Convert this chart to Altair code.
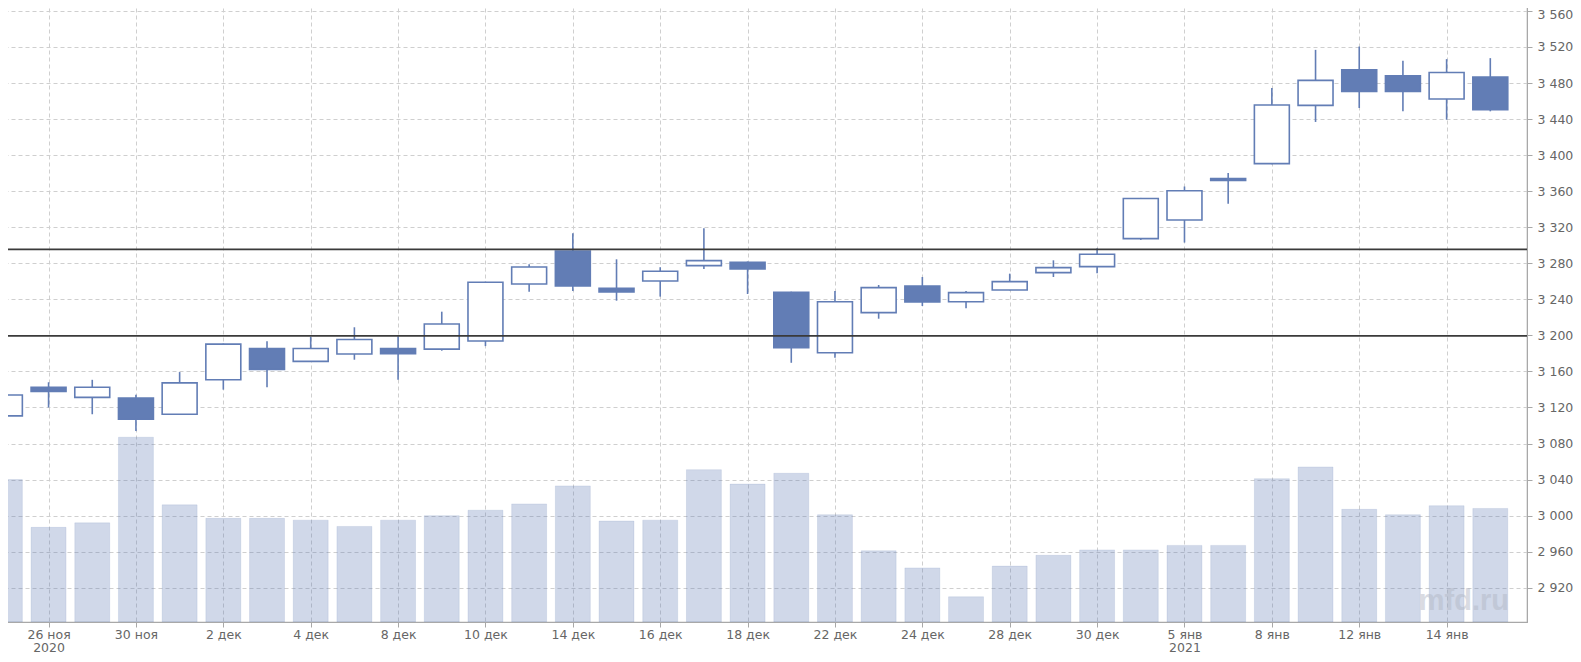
import json
import altair as alt
import pandas as pd

# ---- data ----
dates = ["25 ноя", "26 ноя", "27 ноя", "30 ноя", "1 дек", "2 дек", "3 дек", "4 дек",
         "7 дек", "8 дек", "9 дек", "10 дек", "11 дек", "14 дек", "15 дек", "16 дек",
         "17 дек", "18 дек", "21 дек", "22 дек", "23 дек", "24 дек", "25 дек", "28 дек",
         "29 дек", "30 дек", "4 янв", "5 янв", "6 янв", "8 янв", "11 янв", "12 янв",
         "13 янв", "14 янв", "15 янв"]
opens = [3110.7, 3142.4, 3131.2, 3130.5, 3112.5, 3150.7, 3185.4, 3171.2, 3179.4, 3185.4,
         3184.8, 3193.7, 3257.0, 3293.7, 3252.2, 3260.4, 3277.4, 3281.1, 3247.8, 3180.7,
         3225.2, 3254.8, 3237.4, 3250.4, 3269.6, 3276.3, 3307.4, 3328.1, 3374.0, 3390.6,
         3455.2, 3494.7, 3488.0, 3462.2, 3486.6]
highs = [3134.5, 3148.0, 3150.7, 3134.2, 3159.3, 3191.0, 3193.6, 3198.5, 3209.0, 3199.0,
         3226.3, 3259.5, 3278.9, 3313.3, 3284.4, 3275.6, 3318.9, 3282.0, 3248.5, 3249.3,
         3255.9, 3264.8, 3249.3, 3268.5, 3283.3, 3296.7, 3352.5, 3365.2, 3380.3, 3474.4,
         3516.8, 3520.5, 3504.6, 3506.5, 3507.6]
lows = [3090.0, 3120.0, 3112.5, 3093.8, 3112.0, 3139.8, 3142.4, 3171.0, 3173.0, 3150.7,
        3183.0, 3188.1, 3248.5, 3249.3, 3238.5, 3243.0, 3273.7, 3245.9, 3169.6, 3175.2,
        3218.5, 3232.6, 3230.0, 3250.0, 3264.8, 3268.9, 3305.9, 3303.0, 3346.0, 3390.0,
        3436.8, 3452.3, 3448.6, 3439.3, 3448.6]
closes = [3133.8, 3137.9, 3142.4, 3106.9, 3147.3, 3190.3, 3162.2, 3185.4, 3195.5, 3179.8,
          3212.6, 3258.9, 3275.9, 3254.8, 3248.1, 3271.1, 3283.0, 3273.7, 3186.3, 3237.4,
          3253.0, 3237.0, 3247.4, 3259.6, 3275.2, 3290.0, 3351.9, 3360.4, 3371.8, 3455.6,
          3482.9, 3470.7, 3470.7, 3491.7, 3450.4]
volume_tops = [3040, 2987, 2992, 3087, 3012, 2997, 2997, 2995, 2988, 2995, 3000, 3006,
               3013, 3033, 2994, 2995, 3051, 3035, 3047, 3001, 2961, 2942, 2910, 2944,
               2956, 2962, 2962, 2967, 2967, 3041, 3054, 3007, 3001, 3011, 3008]
levels = [3295.5, 3199.5]

tick_idx = [1, 3, 5, 7, 9, 11, 13, 15, 17, 19, 21, 23, 25, 27, 29, 31, 33]
tick_text = ["26 ноя", "30 ноя", "2 дек", "4 дек", "8 дек", "10 дек", "14 дек", "16 дек",
             "18 дек", "22 дек", "24 дек", "28 дек", "30 дек", "5 янв", "8 янв", "12 янв",
             "14 янв"]
year_marks = {"26 ноя": "2020", "5 янв": "2021"}
y_ticks = list(range(2920, 3561, 40))

Y_MIN, Y_MAX = 2882, 3571
X_MIN, X_MAX = -0.043, 34.84
BLUE = "#627db5"
FONT = "DejaVu Sans"

df = pd.DataFrame({
    "i": list(range(len(dates))),
    "date": dates,
    "open": opens,
    "high": highs,
    "low": lows,
    "close": closes,
    "vol": volume_tops,
})

labels = [[t, year_marks[t]] if t in year_marks else t for t in tick_text]
label_expr = "%s[indexof(%s, datum.value)]" % (
    json.dumps(labels, ensure_ascii=False), json.dumps(tick_idx))

xscale = alt.Scale(domain=[X_MIN, X_MAX], nice=False, zero=False)
yscale = alt.Scale(domain=[Y_MIN, Y_MAX], nice=False, zero=False)

x_axis = alt.Axis(values=tick_idx, labelExpr=label_expr, title=None, grid=True,
                  gridDash=[4, 3], gridColor="#cfcfcf", tickSize=5, tickColor="#a8a8a8",
                  domainColor="#a8a8a8", labelColor="#666666", labelFont=FONT,
                  labelFontSize=12.5, labelPadding=1, labelLineHeight=13,
                  labelOverlap=False, labelFlush=False, labelBound=False)
y_axis = alt.Axis(orient="right", values=y_ticks, title=None, grid=True,
                  gridDash=[4, 3], gridColor="#cfcfcf", tickSize=5, tickColor="#a8a8a8",
                  domainColor="#a8a8a8", labelColor="#666666", labelFont=FONT,
                  labelFontSize=12.5, labelPadding=5, labelOverlap=False,
                  labelFlush=False, labelBound=False,
                  labelOffset={"condition": {"test": "datum.value == %d" % y_ticks[-1],
                                             "value": 4}, "value": 0},
                  labelExpr="replace(format(datum.value, ','), ',', ' ')")

base = alt.Chart(df).transform_calculate(
    xl="datum.i - 0.4", xr="datum.i + 0.4"
)

volume = base.mark_rect(color=BLUE, fillOpacity=0.3, stroke=BLUE, strokeOpacity=0.15,
                        strokeWidth=1, clip=True).encode(
    x=alt.X("xl:Q", scale=xscale, axis=x_axis),
    x2="xr:Q",
    y=alt.Y("vol:Q", scale=yscale, axis=y_axis),
    y2=alt.datum(Y_MIN),
)

watermark = alt.Chart(pd.DataFrame({"t": ["mfd.ru"]})).mark_text(
    align="right", baseline="alphabetic", font="Liberation Sans", fontWeight="bold",
    fontSize=29, color="#b4b9c6", opacity=0.5
).encode(text="t:N", x=alt.value(1506), y=alt.value(609))

wicks = base.mark_rule(color=BLUE, strokeWidth=1.6, clip=True).encode(
    x=alt.X("i:Q", scale=xscale, axis=x_axis),
    y=alt.Y("low:Q", scale=yscale, axis=y_axis),
    y2="high:Q",
)

bodies = base.mark_rect(stroke=BLUE, strokeWidth=1.6, clip=True).encode(
    x=alt.X("xl:Q", scale=xscale, axis=x_axis),
    x2="xr:Q",
    y=alt.Y("open:Q", scale=yscale, axis=y_axis),
    y2="close:Q",
    fill=alt.condition("datum.close < datum.open", alt.value(BLUE), alt.value("white")),
)

lines = alt.Chart(pd.DataFrame({"level": levels})).mark_rule(
    color="#3a3a3a", strokeWidth=1.8
).encode(y=alt.Y("level:Q", scale=yscale, axis=y_axis))

chart = alt.layer(volume, watermark, wicks, bodies, lines).properties(
    width=1524,
    height=621,
    autosize=alt.AutoSizeParams(type="none"),
    padding={"left": -5, "top": -7, "right": 46, "bottom": 32},
    background="white",
).configure_view(stroke="#a8a8a8", strokeWidth=1.2)

chart.save("out.html", embed_options={"renderer": "svg", "actions": False})
